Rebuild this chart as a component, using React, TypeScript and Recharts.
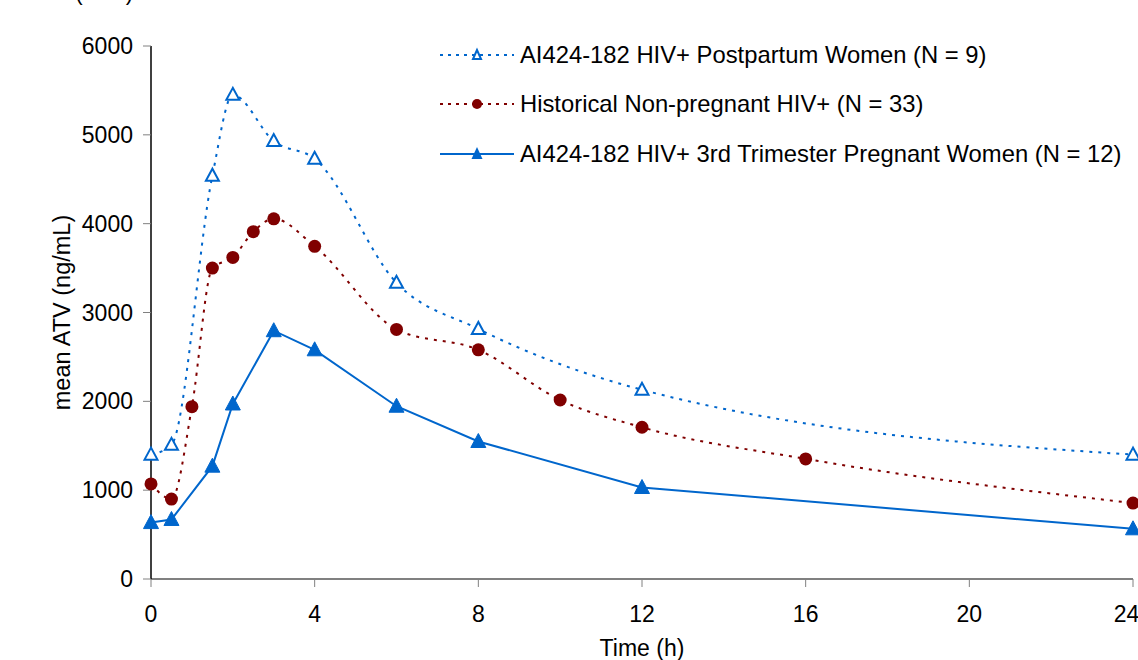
import { LineChart, Line, XAxis, YAxis, Legend } from "recharts";

const FONT = '"Liberation Sans", Arial, sans-serif';
const BLUE = "#0066CC";
const MAROON = "#800000";

// time points (h) and mean ATV (ng/mL)
const postTimes = [0, 0.5, 1.5, 2, 3, 4, 6, 8, 12, 24];
const postValues = [1400, 1510, 4540, 5450, 4930, 4730, 3335, 2815, 2130, 1400];

const histTimes = [0, 0.5, 1, 1.5, 2, 2.5, 3, 4, 6, 8, 10, 12, 16, 24];
const histValues = [1070, 900, 1940, 3500, 3620, 3910, 4055, 3745, 2810, 2580, 2015, 1708, 1352, 855];

const pregTimes = [0, 0.5, 1.5, 2, 3, 4, 6, 8, 12, 24];
const pregValues = [635, 670, 1270, 1970, 2795, 2580, 1945, 1548, 1030, 565];

const xTicks = [0, 4, 8, 12, 16, 20, 24];
const yTicks = [0, 1000, 2000, 3000, 4000, 5000, 6000];

const seriesNames = [
  "AI424-182 HIV+ Postpartum Women (N = 9)",
  "Historical Non-pregnant HIV+ (N = 33)",
  "AI424-182 HIV+ 3rd Trimester Pregnant Women (N = 12)",
];

const toRows = (times: number[], values: number[]) =>
  times.map((t, i) => ({ t, v: values[i] }));

const postData = toRows(postTimes, postValues);
const histData = toRows(histTimes, histValues);
const pregData = toRows(pregTimes, pregValues);

function OpenTriangle(p: any) {
  const { cx, cy } = p;
  if (cx == null || cy == null) return null;
  return (
    <polygon
      points={`${cx},${cy - 7} ${cx - 6.5},${cy + 5} ${cx + 6.5},${cy + 5}`}
      fill="#fff"
      stroke={BLUE}
      strokeWidth={2}
    />
  );
}

function FilledTriangle(p: any) {
  const { cx, cy } = p;
  if (cx == null || cy == null) return null;
  return (
    <polygon
      points={`${cx},${cy - 8} ${cx - 7.5},${cy + 6} ${cx + 7.5},${cy + 6}`}
      fill={BLUE}
      stroke={BLUE}
    />
  );
}

function Dot(p: any) {
  const { cx, cy } = p;
  if (cx == null || cy == null) return null;
  return <circle cx={cx} cy={cy} r={6.5} fill={MAROON} />;
}

function LegendBox() {
  const rows = [
    { name: seriesNames[0], color: BLUE, dash: "3 5", kind: "open" },
    { name: seriesNames[1], color: MAROON, dash: "3 5", kind: "dot" },
    { name: seriesNames[2], color: BLUE, dash: undefined, kind: "filled" },
  ];
  return (
    <div style={{ fontFamily: FONT, fontSize: 23.8, color: "#000" }}>
      {rows.map((r) => (
        <div key={r.name} style={{ display: "flex", alignItems: "center", height: 49.5 }}>
          <svg width={82} height={20} style={{ flex: "none" }}>
            <line x1={2} y1={10} x2={76} y2={10} stroke={r.color} strokeWidth={2} strokeDasharray={r.dash} />
            {r.kind === "open" && (
              <polygon points="39,5 35,14 43,14" fill="#fff" stroke={r.color} strokeWidth={2} />
            )}
            {r.kind === "dot" && <circle cx={39} cy={10} r={5} fill={r.color} />}
            {r.kind === "filled" && <polygon points="39,3 33.5,15 44.5,15" fill={r.color} />}
          </svg>
          <span style={{ whiteSpace: "nowrap" }}>{r.name}</span>
        </div>
      ))}
    </div>
  );
}

function YTitle(props: any) {
  const vb = props.viewBox || {};
  const cy = (vb.y ?? 46) + (vb.height ?? 533) / 2;
  return (
    <text
      x={62}
      y={cy}
      transform={`rotate(-90, 62, ${cy})`}
      textAnchor="middle"
      dominantBaseline="central"
      fontFamily={FONT}
      fontSize={23.5}
      fill="#000"
    >
      mean ATV (ng/mL)
    </text>
  );
}

export default function App() {
  const tickStyle = { fontSize: 23, fill: "#000", fontFamily: FONT };
  return (
    <div
      style={{
        position: "fixed",
        left: 0,
        top: 0,
        width: 1138,
        height: 660,
        overflow: "hidden",
        background: "#fff",
        fontFamily: FONT,
      }}
    >
      <div style={{ position: "absolute", left: 75, top: -19, fontSize: 23, lineHeight: "23px", whiteSpace: "nowrap" }}>
        (ATV)
      </div>
      <LineChart width={1138} height={660} margin={{ top: 46, right: 5, left: 0, bottom: 0 }}>
        <XAxis
          type="number"
          dataKey="t"
          domain={[0, 24]}
          ticks={xTicks}
          allowDuplicatedCategory={false}
          height={81}
          stroke="#808080"
          axisLine={{ stroke: "#808080", strokeWidth: 2 }}
          tickLine={{ stroke: "#808080" }}
          tickSize={8}
          tickMargin={19}
          tick={tickStyle}
          label={{ value: "Time (h)", position: "insideBottom", offset: 4, fontSize: 23, fill: "#000", fontFamily: FONT }}
        />
        <YAxis
          type="number"
          domain={[0, 6000]}
          ticks={yTicks}
          width={151}
          axisLine={{ stroke: "#000", strokeWidth: 1.5 }}
          tickLine={{ stroke: "#808080" }}
          tickSize={8}
          tickMargin={10}
          tick={tickStyle}
          label={<YTitle />}
        />
        <Legend
          layout="vertical"
          align="center"
          verticalAlign="middle"
          content={() => <LegendBox />}
          wrapperStyle={{ top: 30, left: 438, width: 700, height: 150 }}
        />
        <Line
          data={postData}
          dataKey="v"
          name={seriesNames[0]}
          type="monotone"
          stroke={BLUE}
          strokeWidth={2}
          strokeDasharray="3 6"
          dot={(p: any) => <OpenTriangle key={`p${p.index}`} {...p} />}
          activeDot={false}
          isAnimationActive={false}
        />
        <Line
          data={histData}
          dataKey="v"
          name={seriesNames[1]}
          type="monotone"
          stroke={MAROON}
          strokeWidth={2}
          strokeDasharray="3 6"
          dot={(p: any) => <Dot key={`h${p.index}`} {...p} />}
          activeDot={false}
          isAnimationActive={false}
        />
        <Line
          data={pregData}
          dataKey="v"
          name={seriesNames[2]}
          type="linear"
          stroke={BLUE}
          strokeWidth={2}
          dot={(p: any) => <FilledTriangle key={`g${p.index}`} {...p} />}
          activeDot={false}
          isAnimationActive={false}
        />
      </LineChart>
    </div>
  );
}
